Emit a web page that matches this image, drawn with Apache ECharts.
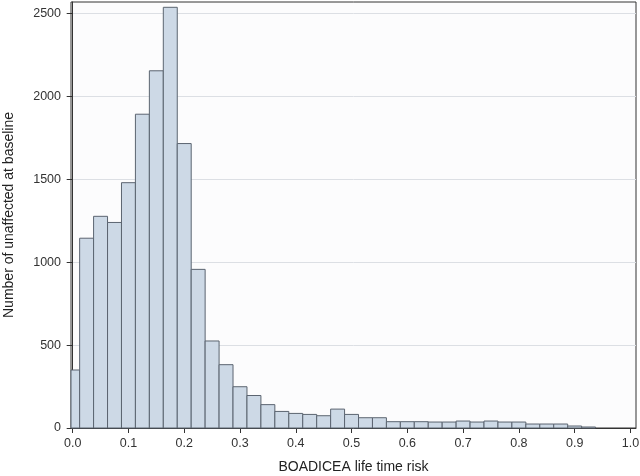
<!DOCTYPE html>
<html>
<head>
<meta charset="utf-8">
<script src="https://cdn.jsdelivr.net/npm/echarts@6/dist/echarts.min.js"></script>
<style>
  html, body { margin: 0; padding: 0; background: #fff; }
  #chart { width: 640px; height: 476px; }
</style>
</head>
<body>
<div id="chart"></div>
<script>
// bin centres (life time risk) and counts
const binCenters = [
  0.000, 0.025, 0.050, 0.075, 0.100, 0.125, 0.150, 0.175, 0.200, 0.225,
  0.250, 0.275, 0.300, 0.325, 0.350, 0.375, 0.400, 0.425, 0.450, 0.475,
  0.500, 0.525, 0.550, 0.575, 0.600, 0.625, 0.650, 0.675, 0.700, 0.725,
  0.750, 0.775, 0.800, 0.825, 0.850, 0.875, 0.900, 0.925
];
const counts = [
  350, 1145, 1277, 1240, 1480, 1893, 2155, 2538, 1716, 957,
  525, 382, 249, 196, 141, 100, 88, 82, 74, 114,
  82, 62, 62, 38, 38, 38, 36, 36, 42, 36,
  42, 36, 36, 24, 24, 24, 12, 6
];
const binWidth = 0.025;
const xTicks = [0, 0.1, 0.2, 0.3, 0.4, 0.5, 0.6, 0.7, 0.8, 0.9, 1.0];
const yTicks = [0, 500, 1000, 1500, 2000, 2500];

const chart = echarts.init(document.getElementById('chart'));

function renderBar(params, api) {
  const x = api.value(0);
  const y = api.value(1);
  const p0 = api.coord([x - binWidth / 2, y]);
  const p1 = api.coord([x + binWidth / 2, 0]);
  const rect = echarts.graphic.clipRectByRect({
    x: p0[0],
    y: p0[1],
    width: p1[0] - p0[0],
    height: p1[1] - p0[1]
  }, {
    x: params.coordSys.x,
    y: params.coordSys.y,
    width: params.coordSys.width,
    height: params.coordSys.height
  });
  return rect && {
    type: 'rect',
    shape: rect,
    style: { fill: '#cdd9e6', stroke: '#5b6470', lineWidth: 1 }
  };
}

chart.setOption({
  animation: false,
  textStyle: { fontFamily: 'Liberation Sans, Arial, sans-serif' },
  grid: {
    left: 71, right: 4, top: 2, bottom: 48,
    outerBoundsMode: 'none',
    containLabel: false,
    show: true,
    borderColor: '#333',
    borderWidth: 1,
    backgroundColor: '#fcfcfd'
  },
  xAxis: {
    type: 'value',
    min: -0.003,
    max: 1.01,
    name: 'BOADICEA life time risk',
    nameLocation: 'middle',
    nameGap: 32,
    nameTextStyle: { color: '#222', fontSize: 14 },
    axisLine: { onZero: false, lineStyle: { color: '#333' } },
    axisTick: { customValues: xTicks, length: 5, lineStyle: { color: '#333' } },
    axisLabel: {
      customValues: xTicks,
      color: '#333',
      fontSize: 12.5,
      margin: 9,
      formatter: v => v.toFixed(1)
    },
    splitLine: { show: false }
  },
  yAxis: {
    type: 'value',
    min: 0,
    max: 2570,
    name: 'Number of unaffected at baseline',
    nameLocation: 'middle',
    nameGap: 55,
    nameTextStyle: { color: '#222', fontSize: 14 },
    axisLine: { show: true, lineStyle: { color: '#333' } },
    axisTick: { show: true, customValues: yTicks, length: 6, lineStyle: { color: '#333' } },
    axisLabel: {
      customValues: yTicks,
      color: '#333',
      fontSize: 12.5,
      margin: 10,
      formatter: v => String(v)
    },
    interval: 500,
    splitLine: { show: true, lineStyle: { color: '#dcdfe4', width: 1 } }
  },
  series: [{
    type: 'custom',
    renderItem: renderBar,
    encode: { x: 0, y: 1 },
    data: binCenters.map((c, i) => [c, counts[i]])
  }]
});
</script>
</body>
</html>
